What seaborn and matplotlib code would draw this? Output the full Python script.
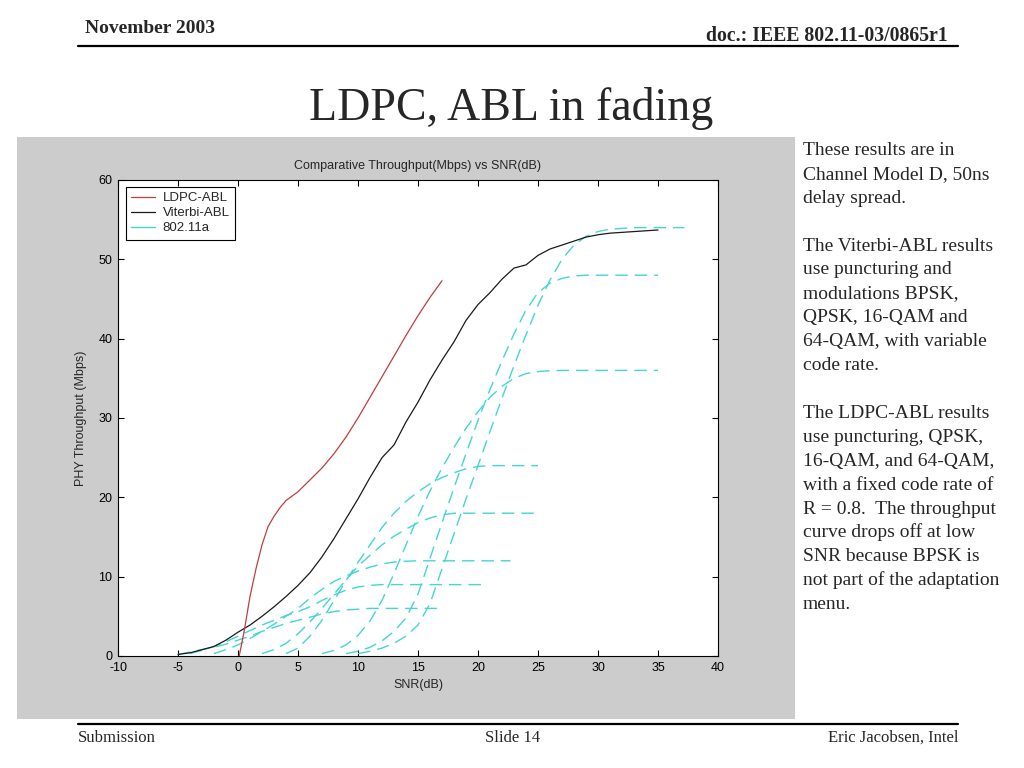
import pandas as pd
import matplotlib
matplotlib.use("Agg")
import matplotlib.pyplot as plt
import seaborn as sns
from matplotlib.lines import Line2D
from matplotlib.patches import Rectangle

# LDPC-ABL throughput (Mbps) vs SNR (dB)
ldpc_snr = [0.1, 0.5, 1, 1.5, 2, 2.5, 3, 3.5, 4, 5, 6, 7, 8, 9, 10, 11, 12, 13, 14, 15, 16, 17]
ldpc_thr = [0, 3, 7.5, 11, 14, 16.3, 17.6, 18.7, 19.6, 20.7, 22.2, 23.7, 25.5, 27.6, 30, 32.6,
            35.2, 37.8, 40.4, 42.9, 45.2, 47.3]

# Viterbi-ABL throughput
vit_snr = list(range(-5, 36))
vit_thr = [0.2, 0.4, 0.8, 1.2, 2.0, 3.0, 3.9, 5.0, 6.2, 7.5, 8.9, 10.5, 12.5, 14.8, 17.3, 19.8,
           22.5, 25.0, 26.6, 29.5, 32.0, 34.8, 37.3, 39.6, 42.3, 44.3, 45.8, 47.5, 48.9, 49.3,
           50.5, 51.3, 51.8, 52.3, 52.8, 53.1, 53.3, 53.4, 53.5, 53.6, 53.7]

# 802.11a fixed-rate curves
snr_6 = list(range(-5, 17)) + [16.7]
thr_6 = [0.2, 0.5, 0.8, 1.1, 1.5, 2.0, 2.5, 3.1, 3.6, 4.1, 4.5, 4.9, 5.3, 5.6, 5.8, 5.9, 6, 6,
         6, 6, 6, 6, 6]
snr_9 = list(range(-4, 21)) + [20.6]
thr_9 = [0.3, 0.7, 1.2, 1.8, 2.5, 3.2, 3.9, 4.5, 5.1, 5.6, 6.2, 7.0, 7.7, 8.3, 8.7, 8.9, 9, 9,
         9, 9, 9, 9, 9, 9, 9, 9]
snr_12 = list(range(-2, 23)) + [22.7]
thr_12 = [0.3, 0.8, 1.4, 2.2, 3.1, 4.0, 5.0, 6.0, 7.3, 8.4, 9.4, 10.1, 10.7, 11.2, 11.6, 11.85,
          11.95, 12, 12, 12, 12, 12, 12, 12, 12, 12]
snr_18 = list(range(2, 26))
thr_18 = [0.3, 0.8, 1.6, 2.8, 4.3, 6.0, 7.8, 9.6, 11.3, 12.7, 14.0, 15.1, 16.0, 16.8, 17.4,
          17.8, 18, 18, 18, 18, 18, 18, 18, 18]
snr_24 = list(range(4, 26))
thr_24 = [0.3, 1.0, 2.5, 4.5, 7.0, 9.5, 11.8, 14.0, 16.2, 18.0, 19.5, 20.7, 21.7, 22.5, 23.1,
          23.6, 23.9, 24, 24, 24, 24, 24]
snr_36 = list(range(7, 36))
thr_36 = [0.3, 0.7, 1.4, 2.6, 4.4, 7.0, 10.4, 14.0, 17.6, 20.8, 23.7, 26.3, 28.7, 30.8, 32.6,
          34.0, 35.0, 35.6, 35.85, 35.95, 36, 36, 36, 36, 36, 36, 36, 36, 36]
snr_48 = list(range(9, 36))
thr_48 = [0.3, 0.6, 1.1, 1.9, 3.1, 4.8, 7.8, 12.3, 16.8, 21.2, 25.5, 29.7, 33.6, 37.2, 40.6,
          43.6, 45.8, 47.0, 47.6, 47.9, 48, 48, 48, 48, 48, 48, 48]
snr_54 = list(range(10, 37)) + [37.2]
thr_54 = [0.3, 0.6, 1.0, 1.6, 2.5, 3.9, 6.6, 11.0, 15.4, 19.8, 24.0, 28.3, 32.5, 36.6, 40.5,
          44.2, 47.4, 50.0, 51.8, 52.9, 53.5, 53.8, 53.9, 54, 54, 54, 54, 54]

wlan = pd.concat([
    pd.DataFrame({"snr": s, "thr": t, "rate": r})
    for s, t, r in [(snr_6, thr_6, 6), (snr_9, thr_9, 9), (snr_12, thr_12, 12),
                    (snr_18, thr_18, 18), (snr_24, thr_24, 24), (snr_36, thr_36, 36),
                    (snr_48, thr_48, 48), (snr_54, thr_54, 54)]
], ignore_index=True)

sns.set_style("ticks")
plt.rcParams["font.family"] = ["Liberation Sans", "DejaVu Sans"]
plt.rcParams["axes.unicode_minus"] = False
serif = ["Liberation Serif", "DejaVu Serif"]

W, H = 1024, 768
fx = lambda x: x / W
fy = lambda y: 1 - y / H

fig = plt.figure(figsize=(10.24, 7.68), dpi=100)
fig.patch.set_facecolor("white")

# grey matlab figure panel
fig.add_artist(Rectangle((fx(17), fy(719)), 778 / W, 582 / H, transform=fig.transFigure,
                         facecolor="#cccccc", edgecolor="none", zorder=0))

ax = fig.add_axes([fx(118), fy(656), 600 / W, 476 / H])
ax.set_facecolor("white")

cyan = "#45d5d5"
sns.lineplot(data=wlan, x="snr", y="thr", units="rate", estimator=None, color=cyan,
             lw=1.0, linestyle=(0, (9, 5)), ax=ax, legend=False)
sns.lineplot(x=vit_snr, y=vit_thr, color="#1a1a1a", lw=0.9, ax=ax)
sns.lineplot(x=ldpc_snr, y=ldpc_thr, color="#c43c3c", lw=0.9, ax=ax)

ax.set_xlim(-10, 40)
ax.set_ylim(0, 60)
ax.set_xticks(range(-10, 41, 5))
ax.set_yticks(range(0, 61, 10))
ax.tick_params(direction="in", length=4, width=0.8, top=True, right=True, labelsize=9,
               colors="black", pad=4)
for sp in ax.spines.values():
    sp.set_visible(True)
    sp.set_color("black")
    sp.set_linewidth(0.8)

ax.set_title("Comparative Throughput(Mbps) vs SNR(dB)", fontsize=9, pad=8)
ax.set_xlabel("SNR(dB)", fontsize=9, labelpad=4)
ax.set_ylabel("PHY Throughput (Mbps)", fontsize=9, labelpad=8)

handles = [Line2D([], [], color="#c43c3c", lw=0.9),
           Line2D([], [], color="#1a1a1a", lw=0.9),
           Line2D([], [], color=cyan, lw=1.0)]
leg = ax.legend(handles, ["LDPC-ABL", "Viterbi-ABL", "802.11a"], loc="upper left",
                bbox_to_anchor=(0.013, 0.986), fontsize=9.5, fancybox=False, framealpha=1,
                edgecolor="black", borderaxespad=0, handlelength=1.8, handletextpad=0.6,
                borderpad=0.4, labelspacing=0.22)
leg.get_frame().set_linewidth(0.8)

# slide header
fig.text(fx(85), fy(33), "November 2003", family=serif, fontweight="bold", fontsize=14,
         va="baseline", ha="left")
fig.text(fx(948), fy(41), "doc.: IEEE 802.11-03/0865r1", family=serif, fontweight="bold",
         fontsize=14.2, va="baseline", ha="right")
fig.add_artist(Line2D([fx(78), fx(958)], [fy(46), fy(46)], transform=fig.transFigure,
                      color="black", lw=1.6))
fig.text(fx(511), fy(120), "LDPC, ABL in fading", family=serif, fontsize=33,
         va="baseline", ha="center")

# side notes
notes = ["These results are in", "Channel Model D, 50ns", "delay spread.", "",
         "The Viterbi-ABL results", "use puncturing and", "modulations BPSK,",
         "QPSK, 16-QAM and", "64-QAM, with variable", "code rate.", "",
         "The LDPC-ABL results", "use puncturing, QPSK,", "16-QAM, and 64-QAM,",
         "with a fixed code rate of", "R = 0.8.  The throughput", "curve drops off at low",
         "SNR because BPSK is", "not part of the adaptation", "menu."]
for i, line in enumerate(notes):
    fig.text(fx(803), fy(155 + 23.9 * i), line, family=serif, fontsize=14,
             va="baseline", ha="left")

# footer
fig.add_artist(Line2D([fx(78), fx(958)], [fy(724), fy(724)], transform=fig.transFigure,
                      color="black", lw=1.6))
fig.text(fx(78), fy(742), "Submission", family=serif, fontsize=12, va="baseline", ha="left")
fig.text(fx(513), fy(742), "Slide 14", family=serif, fontsize=12, va="baseline",
         ha="center")
fig.text(fx(958), fy(742), "Eric Jacobsen, Intel", family=serif, fontsize=12,
         va="baseline", ha="right")

fig.savefig("out.png", dpi=100)
